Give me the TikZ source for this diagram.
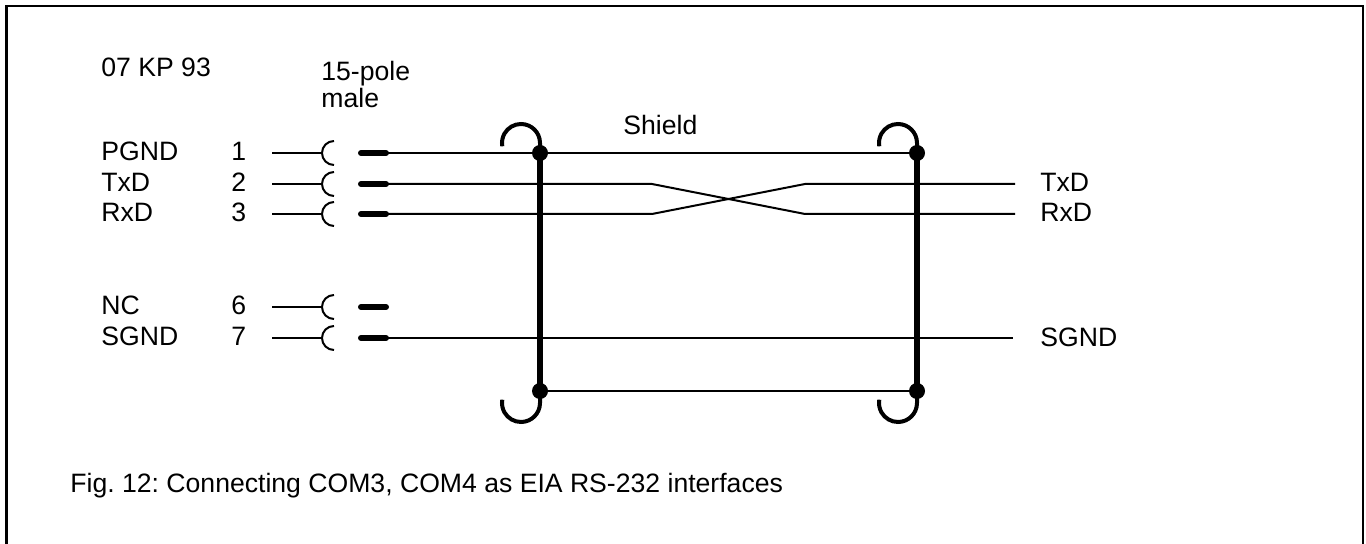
\documentclass[tikz,border=0pt]{standalone}
\usepackage{fontspec}
\setmainfont{Liberation Sans}
\usetikzlibrary{calc}

\begin{document}
\frenchspacing
\begin{tikzpicture}[x=0.5pt, y=-0.5pt, every node/.style={inner sep=0pt, anchor=base west, font=\fontsize{13.3}{11}\selectfont}]
    \tikzset{wire/.style={line width=1pt}, shieldline/.style={line width=2.8pt}, hook/.style={line width=2pt}, pinbar/.style={line width=3pt, line cap=round}}

    \useasboundingbox (0,0) rectangle (1366,544);
    \draw[line width=1.3pt] (6.5,544) -- (6.5,6) -- (1363,6) -- (1363,544);

    \node (kp) at (101,77) {07 KP 93};
    \node [anchor=north west, align=left] (pole) at (321,61) {15-pole\\male};

    \node (pgnd) at (101,161) {PGND};
    \node (txdl) at (101,192) {TxD};
    \node (rxdl) at (101,222) {RxD};
    \node (nc) at (101,315) {NC};
    \node (sgndl) at (101,346) {SGND};

    \node (n1) at (231,161) {1};
    \node (n2) at (231,192) {2};
    \node (n3) at (231,222) {3};
    \node (n6) at (231,315) {6};
    \node (n7) at (231,346) {7};

    % pins of the connector
    \foreach \p/\y in {1/153, 2/184, 3/214, 6/307, 7/338} {
        \coordinate (w\p) at (272,\y);
        \coordinate (c\p) at (322,\y);
        \coordinate (a\p) at (334,\y-12);
        \coordinate (m\p) at (361,\y);
        \coordinate (e\p) at (386,\y);
        \draw[wire] (w\p) -- (c\p);
        \draw[wire] (a\p) arc[start angle=270, end angle=90, radius=12];
        \draw[pinbar] (m\p) -- (e\p);
    }

    \coordinate (s1t) at (540,153);
    \coordinate (s1b) at (540,391);
    \coordinate (s2t) at (917,153);
    \coordinate (s2b) at (917,391);

    \coordinate (k2) at (652,184);
    \coordinate (k3) at (652,214);
    \coordinate (q2) at (805,184);
    \coordinate (q3) at (805,214);
    \coordinate (r2) at (1015,184);
    \coordinate (r3) at (1015,214);
    \coordinate (r7) at (1013,338);

    \draw[wire] (e1) -- (s2t);
    \draw[wire] (e2) -- (k2) -- (q3) -- (r3);
    \draw[wire] (e3) -- (k3) -- (q2) -- (r2);
    \draw[wire] (e7) -- (r7);
    \draw[wire] (s1b) -- (s2b);

    % shield
    \draw[shieldline] (s1t) -- (s1b);
    \draw[shieldline] (s2t) -- (s2b);
    \draw[hook] (s1t) -- ++(0,-10) arc[start angle=0, end angle=-190, radius=19];
    \draw[hook] (s1b) -- ++(0,12) arc[start angle=0, end angle=190, radius=19];
    \draw[hook] (s2t) -- ++(0,-10) arc[start angle=0, end angle=-190, radius=19];
    \draw[hook] (s2b) -- ++(0,12) arc[start angle=0, end angle=190, radius=19];
    \fill (s1t) circle[radius=8];
    \fill (s1b) circle[radius=8];
    \fill (s2t) circle[radius=8];
    \fill (s2b) circle[radius=8];

    \node (shd) at (623,135) {Shield};

    \node (txdr) at (1040,192) {TxD};
    \node (rxdr) at (1040,222) {RxD};
    \node (sgndr) at (1040,347) {SGND};

    \node (cap) at (70,493) {Fig. 12: Connecting COM3, COM4 as EIA RS-232 interfaces};

\end{tikzpicture}
\end{document}
